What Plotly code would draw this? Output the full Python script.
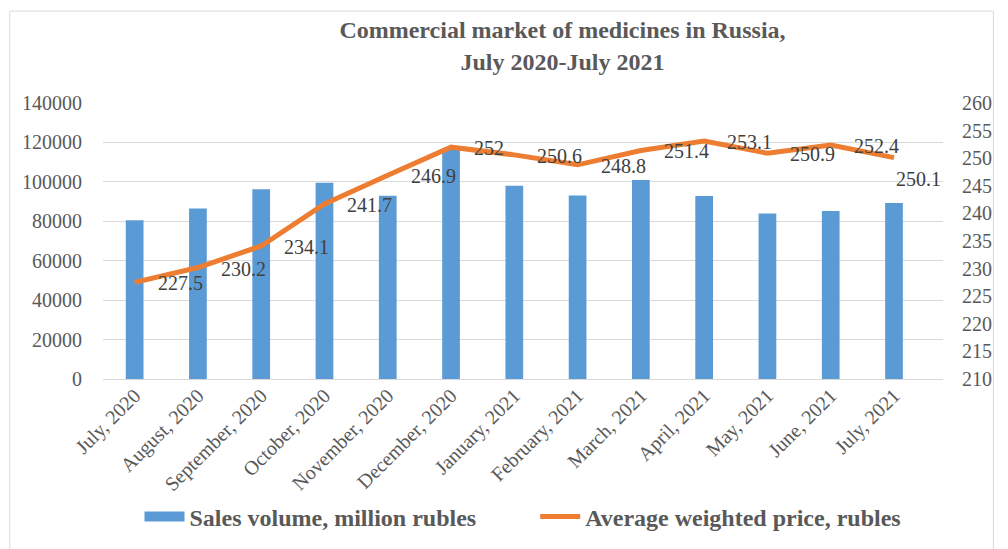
import plotly.graph_objects as go

months = ["July, 2020", "August, 2020", "September, 2020", "October, 2020", "November, 2020",
          "December, 2020", "January, 2021", "February, 2021", "March, 2021", "April, 2021",
          "May, 2021", "June, 2021", "July, 2021"]
sales_volume = [80500, 86500, 96300, 99500, 93000, 117000, 98000, 93100, 101000, 92800, 84000, 85200, 89300]
avg_price = [227.5, 230.2, 234.1, 241.7, 246.9, 252, 250.6, 248.8, 251.4, 253.1, 250.9, 252.4, 250.1]
price_labels = ["227.5", "230.2", "234.1", "241.7", "246.9", "252", "250.6", "248.8", "251.4",
                "253.1", "250.9", "252.4", "250.1"]

FONT = "Liberation Serif"
GREY = "#595959"
BLUE = "#5B9BD5"
ORANGE = "#ED7D31"

fig = go.Figure()
fig.add_trace(go.Bar(
    x=months, y=sales_volume, name="Sales volume, million rubles",
    marker=dict(color=BLUE, line=dict(width=0)), yaxis="y", showlegend=False,
    legendgroup="sales",
))
# legend entry for the bars drawn as a wide block, like the source
fig.add_trace(go.Scatter(
    x=[None], y=[None], mode="lines", legendgroup="sales",
    name="<b>Sales volume, million rubles</b>" + "&nbsp;" * 9,
    line=dict(color=BLUE, width=12), yaxis="y",
))
fig.add_trace(go.Scatter(
    x=months, y=avg_price, name="<b>Average weighted price, rubles</b>",
    mode="lines", line=dict(color=ORANGE, width=5), yaxis="y2",
))

# data labels, placed to the right of each point (last one lower, as in the source)
for i, (m, v, lab) in enumerate(zip(months, avg_price, price_labels)):
    last = i == len(months) - 1
    fig.add_annotation(x=m, y=v, xref="x", yref="y2", text=lab, showarrow=False,
                       xanchor="left", yanchor="middle", xshift=0 if last else 21,
                       yshift=-21 if last else -1,
                       font=dict(family=FONT, size=20, color="#404040"))

fig.update_layout(
    width=1008, height=549,
    margin=dict(l=103, r=65, t=103, b=170, autoexpand=False),
    paper_bgcolor="white", plot_bgcolor="white",
    font=dict(family=FONT, size=20, color=GREY),
    title=dict(text="<b>Commercial market of medicines in Russia,<br>July 2020-July 2021</b>",
               x=0.558, xanchor="center", y=0.93, yanchor="top",
               font=dict(family=FONT, size=24, color=GREY)),
    bargap=0.72,
    xaxis=dict(tickangle=-45, tickfont=dict(family=FONT, size=20, color=GREY),
               showgrid=False, showline=False, ticks="", automargin=False),
    yaxis=dict(range=[0, 140000], dtick=20000, showgrid=True, gridcolor="#D9D9D9",
               gridwidth=1.3, zeroline=True, zerolinecolor="#D9D9D9", zerolinewidth=1.3,
               tickfont=dict(family=FONT, size=20, color=GREY), ticks="", tickformat="d",
               automargin=False, ticklabelstandoff=20),
    yaxis2=dict(range=[210, 260], dtick=5, overlaying="y", side="right", showgrid=False,
                zeroline=False, tickfont=dict(family=FONT, size=20, color=GREY), ticks="",
                automargin=False, ticklabelstandoff=18),
    legend=dict(orientation="h", x=0.5, xanchor="center", y=-0.5, yanchor="middle",
                font=dict(family=FONT, size=24, color=GREY), itemwidth=40,
                traceorder="normal"),
    showlegend=True,
)
fig.add_shape(type="rect", xref="paper", yref="paper",
              x0=-0.111, x1=1.06, y0=-0.62, y1=1.333,
              line=dict(color="#D9D9D9", width=1))

fig.write_html("out.html")
